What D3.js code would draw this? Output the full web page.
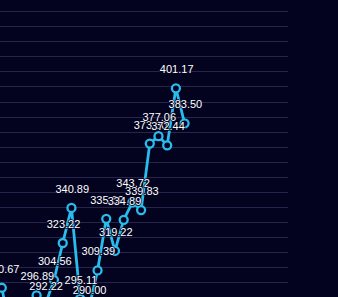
<!DOCTYPE html>
<html>
<head>
<meta charset="utf-8">
<script src="https://cdn.jsdelivr.net/npm/d3@7"></script>
<style>
  html, body { margin: 0; padding: 0; background: #03031f; overflow: hidden; }
  svg { display: block; }
</style>
</head>
<body>
<svg id="chart" width="338" height="297"></svg>
<script>
// Data (leftmost hidden points are estimates below the visible area)
const categories = ["P1","P2","P3","P4","P5","P6","P7","P8","P9","P10","P11","P12","P13","P14","P15","P16","P17","P18","P19","P20","P21","P22"];
const values = [300.67, 278.5, 274.8, 279.2, 296.89, 292.22, 304.56, 323.22, 340.89, 295.11, 290.00, 309.39, 335.39, 319.22, 334.89, 343.72, 339.83, 373.30, 377.06, 372.44, 401.17, 383.50];
const gridValues = [440, 432.41, 424.83, 417.24, 409.65, 402.07, 394.48, 386.89, 379.30, 371.72, 364.13, 356.54, 348.96, 341.37, 333.78, 326.19, 318.61, 311.02, 303.43, 295.85];

const W = 338, H = 297;
const bg = "#03031f";
const lineColor = "#29bcee";

const svg = d3.select("#chart");
svg.append("rect").attr("width", W).attr("height", H).attr("fill", bg);

const x = d3.scalePoint().domain(categories).range([1.8, 184.6]);
const y = d3.scaleLinear().domain([280, 440]).range([328.8, 11.2]);

// grid
svg.append("g").selectAll("line").data(gridValues).join("line")
  .attr("x1", -20).attr("x2", 288)
  .attr("y1", d => Math.round(y(d)) + 0.5).attr("y2", d => Math.round(y(d)) + 0.5)
  .attr("stroke", "#26264a").attr("stroke-width", 1);

const pts = categories.map((c, i) => ({ c, v: values[i] }));

svg.append("path").datum(pts)
  .attr("d", d3.line().x(d => x(d.c)).y(d => y(d.v)))
  .attr("fill", "none").attr("stroke", lineColor).attr("stroke-width", 2.8)
  .attr("stroke-linejoin", "round");

svg.append("g").selectAll("circle").data(pts).join("circle")
  .attr("cx", d => x(d.c)).attr("cy", d => y(d.v)).attr("r", 4)
  .attr("fill", bg).attr("stroke", lineColor).attr("stroke-width", 2.3);

svg.append("g").selectAll("text").data(pts).join("text")
  .attr("x", d => x(d.c) + 0.8).attr("y", d => y(d.v) - 15)
  .attr("text-anchor", "middle")
  .attr("font-family", "'Liberation Sans', Arial, sans-serif")
  .attr("font-size", 11)
  .attr("fill", "#ffffff")
  .attr("stroke", bg).attr("stroke-width", 1.5)
  .attr("paint-order", "stroke")
  .text(d => d.v.toFixed(2));
</script>
</body>
</html>
